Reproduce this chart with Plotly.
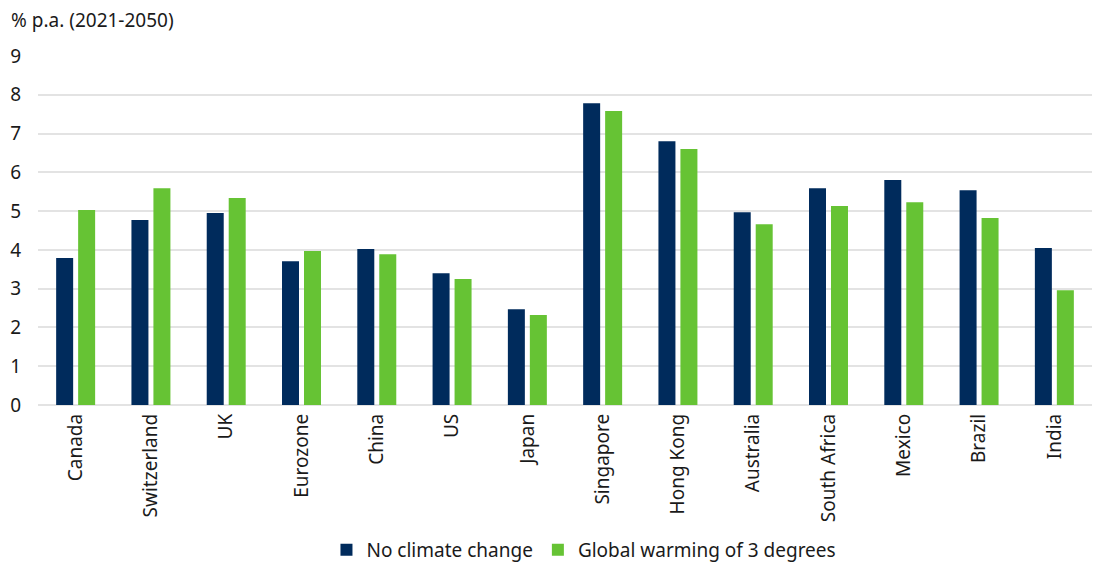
import plotly.graph_objects as go

countries = ["Canada", "Switzerland", "UK", "Eurozone", "China", "US", "Japan",
             "Singapore", "Hong Kong", "Australia", "South Africa", "Mexico",
             "Brazil", "India"]
no_climate_change = [3.79, 4.77, 4.95, 3.71, 4.02, 3.40, 2.47,
                     7.78, 6.80, 4.97, 5.59, 5.80, 5.54, 4.05]
warming_3_degrees = [5.03, 5.59, 5.34, 3.97, 3.89, 3.25, 2.32,
                     7.58, 6.60, 4.66, 5.13, 5.23, 4.82, 2.96]
y_ticks = [0, 1, 2, 3, 4, 5, 6, 7, 8, 9]

NAVY = "#002B5C"
GREEN = "#66C334"
TEXT = "#1a1a1a"
FONT = "Noto Sans, Open Sans, sans-serif"
FS = 19

fig = go.Figure()
fig.add_trace(go.Bar(name="No climate change", x=countries, y=no_climate_change,
                     marker=dict(color=NAVY, line=dict(width=0))))
fig.add_trace(go.Bar(name="Global warming of 3 degrees", x=countries, y=warming_3_degrees,
                     marker=dict(color=GREEN, line=dict(width=0))))

fig.update_layout(
    width=1104, height=566,
    margin=dict(l=38, r=12, t=56, b=161, autoexpand=False),
    paper_bgcolor="white", plot_bgcolor="white",
    barmode="group", bargap=0.416, bargroupgap=0.227,
    font=dict(family=FONT, size=FS, color=TEXT),
    showlegend=True,
    legend=dict(orientation="h", x=0.518, xanchor="center", y=-0.415, yanchor="middle",
                font=dict(size=FS, color=TEXT), itemwidth=30, traceorder="normal"),
    annotations=[dict(text="% p.a. (2021-2050)", xref="paper", yref="paper",
                      x=-29 / 1054, y=1 + 36 / 349,
                      showarrow=False, xanchor="left", yanchor="middle",
                      font=dict(size=FS, color=TEXT))],
)

fig.update_xaxes(tickangle=-90, showgrid=False, showline=False, ticks="",
                 ticklabelstandoff=4, tickfont=dict(size=FS, color=TEXT))
fig.update_yaxes(range=[0, 9], tickvals=y_ticks, showgrid=True, gridcolor="#e3e3e3",
                 gridwidth=1.5, zeroline=True, zerolinecolor="#e3e3e3", zerolinewidth=1.5,
                 showline=False, ticks="", ticklabelstandoff=16,
                 tickfont=dict(size=FS, color=TEXT))

fig.write_html("out.html")
